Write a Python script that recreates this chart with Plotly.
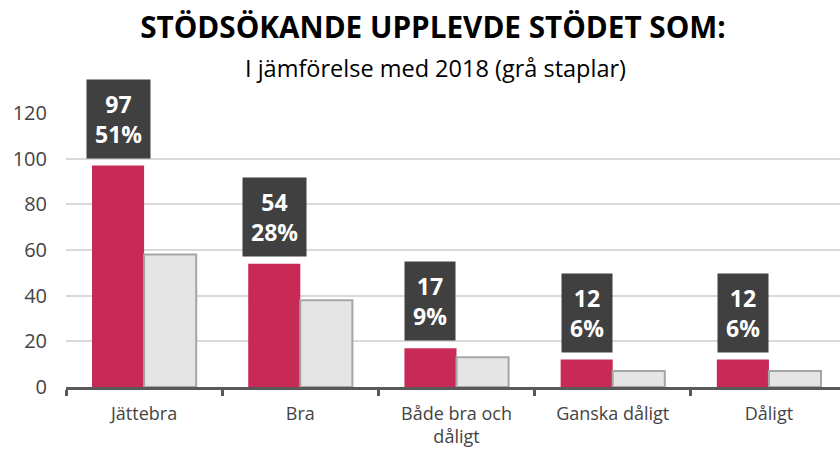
import plotly.graph_objects as go

categories = ["Jättebra", "Bra", "Både bra och<br>dåligt", "Ganska dåligt", "Dåligt"]
values_now = [97, 54, 17, 12, 12]
values_2018 = [58, 38, 13, 7, 7]
percent_labels = ["51%", "28%", "9%", "6%", "6%"]
y_ticks = [0, 20, 40, 60, 80, 100, 120]

RED = "#C82A58"
GRAY_FILL = "#E5E5E5"
GRAY_LINE = "#A6A6A6"
TXT = "#444444"
AXIS = "#595959"
FONT = "Open Sans"

fig = go.Figure()
fig.add_trace(go.Bar(x=categories, y=values_now, marker=dict(color=RED, line=dict(width=0)),
                     name="Nu", hoverinfo="skip"))
fig.add_trace(go.Bar(x=categories, y=values_2018,
                     marker=dict(color=GRAY_FILL, line=dict(color=GRAY_LINE, width=2)),
                     name="2018", hoverinfo="skip"))

for i, (v, p) in enumerate(zip(values_now, percent_labels)):
    fig.add_annotation(x=i - 1/6, y=v, xref="x", yref="y",
                       text=f"<b>{v}<br>{p}</b>", showarrow=False,
                       yanchor="bottom", yshift=7,
                       font=dict(family=FONT, size=23, color="white"),
                       bgcolor="#404040", borderpad=8)

fig.add_annotation(x=(435 - 66) / 774, y=(387 - 68) / 274, xref="paper", yref="paper",
                   text="I jämförelse med 2018 (grå staplar)", showarrow=False,
                   font=dict(family=FONT, size=23.5, color="#000000"),
                   xanchor="center", yanchor="middle")

fig.update_layout(
    width=840, height=450,
    margin=dict(l=66, r=0, t=113, b=63),
    paper_bgcolor="white", plot_bgcolor="white",
    barmode="group", bargap=0.333, bargroupgap=0,
    showlegend=False,
    title=dict(text="<b>STÖDSÖKANDE UPPLEVDE STÖDET SOM:</b>",
               x=433 / 840, xanchor="center", y=1 - 28 / 450, yanchor="middle",
               font=dict(family=FONT, size=29.7, color="#000000")),
    font=dict(family=FONT, color=TXT),
)
fig.update_xaxes(range=[-0.5, 4.455], showline=True, linecolor=AXIS, linewidth=3,
                 ticks="outside", tickson="boundaries", ticklen=6, tickwidth=3, tickcolor=AXIS,
                 ticklabelstandoff=8,
                 tickfont=dict(family=FONT, size=18, color=TXT), showgrid=False,
                 automargin=False)
fig.update_yaxes(range=[0, 120], tickvals=y_ticks, showgrid=True, gridcolor="#D9D9D9",
                 gridwidth=1.5, zeroline=False, showline=False, ticks="",
                 ticklabelstandoff=18, automargin=False,
                 tickfont=dict(family=FONT, size=20, color=TXT))

fig.write_html("out.html", config={"displayModeBar": False},
               post_script="document.body.style.margin='0';")
